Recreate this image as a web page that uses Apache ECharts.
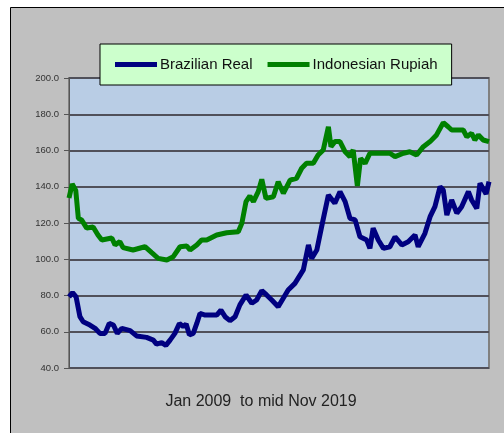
<!DOCTYPE html>
<html>
<head>
<meta charset="utf-8">
<script src="https://cdn.jsdelivr.net/npm/echarts@6/dist/echarts.min.js"></script>
<style>
  html, body { margin: 0; padding: 0; background: #fff; }
  #main { width: 504px; height: 433px; }
</style>
</head>
<body>
<div id="main"></div>
<script>
// months since Jan 2009
const realMonths = [0, 1.1, 2.2, 3.4, 4.4, 6.5, 8.1, 9.6, 11.2, 12.5, 13.8, 15.0, 16.4, 19.0, 21.0, 24.1, 26.2, 27.2, 28.8, 30.1,
  31.4, 32.9, 34.3, 35.5, 36.4, 37.4, 38.6, 39.7, 40.7, 42.3, 45.9, 47.2, 48.5, 50.0, 51.6, 53.1, 55.0, 56.8, 58.3, 59.9,
  61.4, 63.0, 65.0, 68.1, 70.2, 72.8, 74.4, 75.4, 77.0, 78.5, 80.6, 82.6, 84.2, 85.8, 87.3, 88.9, 90.4, 92.5, 93.5, 94.5,
  96.1, 97.7, 99.7, 101.3, 103.4, 105.4, 107.5, 108.5, 110.6, 112.2, 113.7, 115.3, 116.3, 117.4, 118.9, 120.5, 122.0, 124.1, 125.1, 126.7,
  127.7, 129.6, 130.5];
const realValues = [79.3, 81.6, 79.3, 68.3, 65.5, 63.7, 61.9, 59.1, 59.1, 64.6, 63.7, 59.1, 61.9, 60.6, 57.7, 56.9, 55.4, 53.2, 54.0, 52.5,
  55.4, 59.1, 64.6, 62.8, 64.3, 58.3, 59.1, 64.6, 70.1, 69.2, 69.2, 71.9, 68.3, 66.1, 68.3, 74.8, 80.3, 75.7, 77.5, 82.7,
  80.3, 77.5, 73.8, 83.0, 86.7, 94.1, 107.9, 100.5, 105.1, 118.0, 135.4, 130.9, 137.3, 131.8, 122.6, 121.7, 112.4, 110.6, 106.0, 117.1,
  110.6, 106.0, 106.9, 112.4, 107.9, 109.7, 113.4, 106.9, 114.3, 123.5, 129.0, 140.0, 138.2, 124.4, 132.7, 125.4, 129.0, 137.3, 132.7, 128.1,
  141.9, 136.0, 142.8];

const rupiahMonths = [0, 1.0, 2.1, 2.9, 3.9, 5.5, 7.5, 9.0, 10.2, 13.3, 14.3, 15.8, 16.8, 19.9, 23.6, 25.7, 27.7, 30.4, 32.4, 34.5,
  36.6, 37.6, 39.7, 41.2, 42.8, 45.9, 49.0, 52.6, 53.7, 55.0, 56.2, 57.3, 58.8, 59.9, 61.2, 63.5, 65.0, 66.6, 68.7, 70.7,
  72.3, 73.8, 75.9, 77.4, 79.0, 80.6, 81.4, 82.6, 84.2, 85.8, 87.3, 88.3, 89.6, 90.6, 92.0, 93.5, 96.6, 99.7, 101.3, 103.9,
  105.9, 108.0, 110.1, 112.2, 114.2, 116.3, 117.8, 118.9, 122.5, 123.6, 125.1, 126.1, 127.2, 128.7, 130.5];
const rupiahValues = [133.8, 141.5, 138.0, 122.6, 121.7, 117.2, 117.8, 113.4, 110.6, 111.7, 107.9, 109.7, 106.4, 105.1, 106.9, 103.6, 100.5, 99.6, 101.4, 106.9,
  107.3, 105.1, 107.9, 110.6, 110.6, 113.4, 114.6, 115.2, 119.8, 131.8, 134.9, 131.8, 137.3, 144.1, 133.6, 134.5, 142.8, 136.4, 143.7, 144.7,
  150.2, 152.9, 152.9, 157.5, 160.3, 173.1, 162.1, 164.9, 164.9, 159.3, 156.6, 160.3, 140.4, 155.7, 152.9, 158.5, 158.5, 158.5, 156.6, 158.5,
  159.3, 157.5, 162.1, 164.9, 168.6, 175.4, 173.1, 171.3, 171.3, 167.6, 169.5, 165.8, 168.6, 165.8, 164.9];

const seriesNames = ['Brazilian Real', 'Indonesian Rupiah'];
const seriesColors = ['#000080', '#008000'];
const subtitle = 'Jan 2009  to mid Nov 2019';

const pair = (xs, ys) => xs.map((x, i) => [x, ys[i]]);

const chart = echarts.init(document.getElementById('main'), null, { renderer: 'canvas' });

const option = {
  animation: false,
  color: seriesColors,
  textStyle: { fontFamily: '"Liberation Sans", Arial, sans-serif' },
  graphic: [{
    type: 'rect',
    z: -10,
    shape: { x: 10.5, y: 7.5, width: 520, height: 460 },
    style: { fill: '#c0c0c0', stroke: '#000', lineWidth: 1 }
  }, {
    type: 'text',
    x: 261, y: 402,
    style: {
      text: subtitle, fill: '#222', fontSize: 16,
      fontFamily: '"Liberation Sans", Arial, sans-serif',
      align: 'center', verticalAlign: 'middle'
    }
  }],
  legend: {
    left: 100, top: 44,
    padding: [13, 14, 13, 15],
    backgroundColor: '#ccffcc',
    borderColor: '#000',
    borderWidth: 1,
    itemWidth: 42, itemHeight: 5, itemGap: 15,
    icon: 'rect',
    textStyle: { fontSize: 15, color: '#111', padding: [0, 0, 0, -2] },
    data: seriesNames
  },
  grid: {
    left: 69, right: 15, top: 78, bottom: 65,
    show: true,
    backgroundColor: '#b9cde5',
    borderColor: '#808080',
    borderWidth: 2
  },
  xAxis: {
    type: 'value',
    min: 0, max: 130.5,
    axisLine: { show: false },
    axisTick: { show: false },
    axisLabel: { show: false },
    splitLine: { show: false }
  },
  yAxis: {
    type: 'value',
    min: 40, max: 200, interval: 20,
    axisLine: { show: true, lineStyle: { color: '#555', width: 1 } },
    axisTick: { show: true, length: 5, lineStyle: { color: '#555' } },
    axisLabel: {
      fontSize: 9.5, color: '#333', margin: 10,
      formatter: v => v.toFixed(1)
    },
    splitLine: { lineStyle: { color: '#50505a', width: 2 } }
  },
  series: [{
    name: seriesNames[0],
    type: 'line',
    showSymbol: false,
    lineStyle: { width: 5, color: seriesColors[0] },
    data: pair(realMonths, realValues)
  }, {
    name: seriesNames[1],
    type: 'line',
    showSymbol: false,
    lineStyle: { width: 5, color: seriesColors[1] },
    data: pair(rupiahMonths, rupiahValues)
  }]
};

chart.setOption(option);
</script>
</body>
</html>
